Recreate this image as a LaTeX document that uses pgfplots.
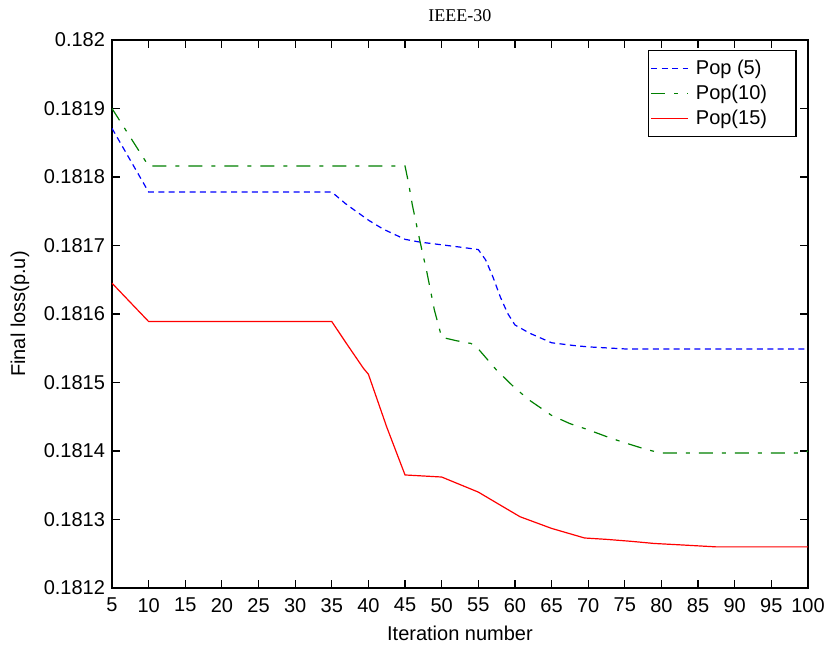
\documentclass[border=0pt]{standalone}
\usepackage{pgfplots}
\pgfplotsset{compat=1.18}
\usepackage{fontspec}
\setmainfont{Liberation Sans}
\newfontfamily\seriffont{Liberation Serif}
\begin{document}
\begin{tikzpicture}
\begin{axis}[
  at={(0,0)}, anchor=south west,
  scale only axis, width=348pt, height=274pt,
  xmin=5, xmax=100, ymin=0.1812, ymax=0.182,
  xtick={5,10,15,20,25,30,35,40,45,50,55,60,65,70,75,80,85,90,95,100},
  ytick={0.1812,0.1813,0.1814,0.1815,0.1816,0.1817,0.1818,0.1819,0.182},
  scaled y ticks=false,
  y tick label style={/pgf/number format/fixed,/pgf/number format/precision=4},
  x tick label style={yshift=-1.5pt},
  /pgf/number format/assume math mode=true,
  tick label style={font=\fontsize{10}{12}\selectfont},
  tick align=inside, major tick length=4pt,
  xtick pos=both, ytick pos=both,
  axis line style={black, line width=0.6pt},
  every tick/.style={black, line width=0.6pt},
  xlabel={Iteration number},
  ylabel={Final loss(p.u)},
  label style={font=\fontsize{10}{12}\selectfont},
  x label style={at={(axis description cs:0.5,-0.0821)}, anchor=center},
  y label style={at={(axis description cs:-0.1322,0.5)}, anchor=center},
  title={\seriffont IEEE-30},
  every axis title/.style={at={(axis description cs:0.5,1.0438)}, anchor=center, font=\fontsize{9}{10}\selectfont},
  legend style={at={(1,1)}, anchor=north east, xshift=-5.65pt, yshift=-5pt,
    font=\fontsize{10}{11}\selectfont, draw=black, line width=0.6pt,
    inner xsep=1.25pt, inner ysep=2.75pt, row sep=0pt,
    nodes={inner xsep=3.75pt, inner ysep=0pt, minimum height=12.5pt},
    legend cell align=left},
  legend image code/.code={\draw[#1, line width=0.5pt] (0pt,0pt) -- (18.3pt,0pt);},
]
\addplot[blue, line width=0.6pt, dash pattern=on 3pt off 2.2pt] coordinates {
(5,0.181871) (10,0.181778) (35,0.181778) (37,0.181760) (40,0.181737) (42,0.181724)
(45,0.181709) (47,0.181705) (50,0.181701) (53,0.181697) (55,0.181694) (56,0.181679)
(57,0.181654) (58,0.181625) (59,0.181601) (60,0.181584) (62,0.181572) (65,0.181558)
(68,0.181554) (70,0.181552) (75,0.181549) (100,0.181549)
};
\addlegendentry{Pop (5)\hspace*{9.5pt}}
\addplot[green!50!black, line width=0.6pt, dash pattern=on 7pt off 4.5pt on 2pt off 4.5pt] coordinates {
(5,0.181900) (10,0.181816) (45,0.181816) (45.5,0.181790) (46,0.181759) (47,0.181708)
(48,0.181660) (49,0.181606) (50,0.181566) (52,0.181561) (54,0.181557) (55,0.181549)
(57.5,0.181518) (60,0.181492) (62,0.181474) (65,0.181452) (67.5,0.181440) (70,0.181431)
(73,0.181419) (75,0.181412) (78,0.181402) (80,0.181397) (99.5,0.181397) (100,0.181400)
};
\addlegendentry{Pop(10)\hspace*{9.5pt}}
\addplot[red, line width=0.6pt] coordinates {
(5,0.181645) (10,0.181589) (35,0.181589) (37,0.181557) (39.3,0.181521) (40,0.181512)
(42.5,0.181435) (45,0.181365) (50,0.181362) (55,0.181340) (58,0.181321) (60.7,0.181304)
(65,0.181287) (69.5,0.181273) (72.5,0.181271) (76,0.181268) (79,0.181265) (82.5,0.181263)
(87.5,0.181260) (100,0.181260)
};
\addlegendentry{Pop(15)\hspace*{9.5pt}}
\end{axis}
\pgfresetboundingbox
\path[use as bounding box] (-56pt,-29pt) rectangle (357.5pt,294pt);
\end{tikzpicture}
\end{document}
